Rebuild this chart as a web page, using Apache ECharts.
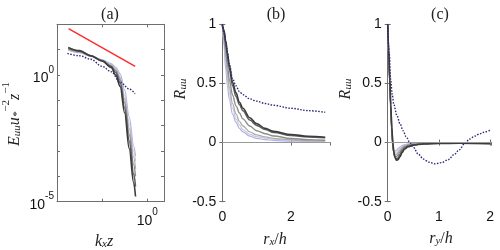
<!DOCTYPE html>
<html>
<head>
<meta charset="utf-8">
<script src="https://cdn.jsdelivr.net/npm/echarts@6/dist/echarts.min.js"></script>
<style>html,body{margin:0;padding:0;background:#fff}#c{width:500px;height:250px}</style>
</head>
<body>
<div id="c"></div>
<script>
// ---------- Panel (a): spectra ----------
const kx = [0.0178, 0.0316, 0.0562, 0.1, 0.158, 0.2, 0.251, 0.316, 0.398, 0.501, 0.55];
const a1 = [12.3, 9.12, 5.75, 3.55, 2.0, 1.0, 0.355, 0.0316, 0.00126, 5.6e-5, 1.6e-5];
const a2 = [11.5, 8.71, 5.75, 3.63, 2.14, 1.26, 0.479, 0.0501, 0.00251, 1.26e-4, 3.98e-5];
const a3 = [10.7, 8.32, 5.62, 3.72, 2.29, 1.45, 0.631, 0.0794, 0.00447, 2.82e-4, 1.0e-4];
const a4 = [10.2, 7.94, 5.62, 3.80, 2.45, 1.58, 0.759, 0.112, 0.00794, 5.62e-4, 2.0e-4];
const a5 = [9.77, 7.76, 5.62, 3.89, 2.63, 1.78, 0.891, 0.158, 0.0126, 0.001, 3.98e-4];
const a6 = [9.55, 7.59, 5.62, 3.98, 2.82, 2.0, 1.12, 0.251, 0.0224, 0.00158, 6.31e-4];
const aDotX = [0.017, 0.0316, 0.0562, 0.1, 0.158, 0.251, 0.398, 0.537];
const aDotY = [7.08, 5.75, 4.17, 2.19, 1.35, 0.525, 0.282, 0.182];
const redX = [0.018, 0.54];
const redY = [68, 2.2];

// ---------- Panel (b): streamwise correlation ----------
const rx = [0, 0.05, 0.1, 0.15, 0.2, 0.3, 0.4, 0.5, 0.6, 0.8, 1, 1.25, 1.5, 2, 2.5, 3];
const b1 = [1, 0.95, 0.86, 0.76, 0.66, 0.51, 0.42, 0.34, 0.29, 0.21, 0.16, 0.12, 0.095, 0.068, 0.053, 0.045];
const b2 = [1, 0.94, 0.84, 0.73, 0.63, 0.48, 0.39, 0.32, 0.27, 0.19, 0.145, 0.11, 0.085, 0.06, 0.048, 0.04];
const b3 = [1, 0.9, 0.78, 0.66, 0.54, 0.4, 0.31, 0.25, 0.2, 0.14, 0.1, 0.075, 0.055, 0.035, 0.025, 0.02];
const b4 = [1, 0.87, 0.72, 0.59, 0.47, 0.33, 0.24, 0.18, 0.14, 0.09, 0.065, 0.048, 0.035, 0.022, 0.017, 0.015];
const b5 = [1, 0.85, 0.68, 0.54, 0.42, 0.29, 0.2, 0.15, 0.11, 0.07, 0.05, 0.037, 0.028, 0.02, 0.015, 0.012];
const b6 = [1, 0.82, 0.62, 0.48, 0.37, 0.24, 0.17, 0.12, 0.09, 0.055, 0.035, 0.025, 0.018, 0.012, 0.01, 0.008];
const bDot = [1, 0.93, 0.85, 0.76, 0.67, 0.54, 0.48, 0.43, 0.405, 0.37, 0.35, 0.33, 0.315, 0.29, 0.27, 0.256];

// ---------- Panel (c): spanwise correlation ----------
const ry = [0, 0.02, 0.04, 0.06, 0.08, 0.1, 0.12, 0.14, 0.17, 0.2, 0.24, 0.28, 0.33, 0.4, 0.5, 0.7, 1, 1.4, 2.0];
const c1 = [1, 0.78, 0.54, 0.32, 0.13, 0.0, -0.08, -0.125, -0.15, -0.145, -0.12, -0.085, -0.055, -0.035, -0.022, -0.012, -0.008, -0.005, -0.01];
const c2 = [1, 0.77, 0.53, 0.31, 0.12, -0.01, -0.085, -0.125, -0.14, -0.13, -0.1, -0.07, -0.045, -0.03, -0.02, -0.01, -0.006, -0.004, -0.008];
const c3 = [1, 0.76, 0.52, 0.3, 0.11, -0.02, -0.09, -0.115, -0.12, -0.105, -0.08, -0.055, -0.035, -0.022, -0.014, -0.008, -0.005, -0.003, -0.006];
const c4 = [1, 0.75, 0.5, 0.28, 0.1, -0.03, -0.085, -0.1, -0.1, -0.085, -0.062, -0.043, -0.028, -0.018, -0.012, -0.007, -0.004, -0.002, -0.005];
const c5 = [1, 0.74, 0.49, 0.27, 0.09, -0.035, -0.08, -0.088, -0.082, -0.068, -0.05, -0.035, -0.022, -0.014, -0.01, -0.006, -0.003, -0.002, -0.004];
const c6 = [1, 0.73, 0.47, 0.25, 0.07, -0.04, -0.07, -0.072, -0.065, -0.052, -0.038, -0.026, -0.017, -0.011, -0.008, -0.005, -0.003, -0.002, -0.003];
const cDotX = [0, 0.03, 0.06, 0.09, 0.12, 0.18, 0.24, 0.3, 0.36, 0.43, 0.5, 0.6, 0.7, 0.8, 0.92, 1.05, 1.18, 1.3, 1.4, 1.5, 1.6, 1.7, 1.8, 1.9, 2.0];
const cDotY = [1, 0.75, 0.52, 0.4, 0.32, 0.23, 0.16, 0.1, 0.05, 0, -0.04, -0.1, -0.14, -0.165, -0.18, -0.17, -0.145, -0.1, -0.06, -0.01, 0.03, 0.055, 0.075, 0.09, 0.105];

const titles = ['(a)', '(b)', '(c)'];

const grayColors = ['#cbcbcb', '#adadad', '#8c8c8c', '#5e5e5e', '#3c3c3c'];
const blueLight = '#aeaef2';
const navy = '#2b2b7a';
const red = '#ff2a2a';

const zip = (xs, ys) => xs.map((x, i) => [x, ys[i]]);

const AX = '#6e6e6e';
const SANS = "'Liberation Sans', Arial, sans-serif";
const SERIF = "'Liberation Serif', 'DejaVu Serif', serif";

const grids = [
  {left: 57, top: 24.3, width: 107, height: 177.4},
  {left: 222.3, top: 24.3, width: 107.7, height: 177.4},
  {left: 387.7, top: 24.3, width: 104, height: 177.4}
];

function baseAxis(extra) {
  return Object.assign({
    axisLine: {show: true, lineStyle: {color: AX, width: 1}},
    axisTick: {show: true, inside: true, length: 3, lineStyle: {color: AX}},
    splitLine: {show: false},
    axisLabel: {color: '#111', fontFamily: SANS, fontSize: 14}
  }, extra);
}
function mirror(ax, pos) {
  const m = JSON.parse(JSON.stringify(ax));
  m.position = pos;
  m.axisLabel = {show: false};
  return m;
}

const supRich = {
  b: {fontFamily: SANS, fontSize: 14, color: '#111', verticalAlign: 'bottom', lineHeight: 20},
  s: {fontFamily: SANS, fontSize: 10, color: '#111', verticalAlign: 'top', lineHeight: 12}
};
const logFmt = keep => v => {
  const e = Math.round(Math.log10(v));
  return keep.indexOf(e) >= 0 ? '{b|10}{s|' + e + '}' : '';
};

const xA = baseAxis({type: 'log', logBase: 10, gridIndex: 0, min: 0.01, max: 2.35, interval: 1,
  axisLabel: {formatter: logFmt([0]), rich: supRich, margin: 6}});
const yA = baseAxis({type: 'log', logBase: 10, gridIndex: 0, min: 1e-5, max: 100, interval: 1,
  axisLabel: {formatter: logFmt([0, -5]), rich: supRich, margin: 3}});
const xB = baseAxis({type: 'value', gridIndex: 1, min: 0, max: 3.14, interval: 2,
  axisLabel: {color: '#111', fontFamily: SANS, fontSize: 14, margin: 8, showMaxLabel: false}});
const yB = baseAxis({type: 'value', gridIndex: 1, min: -0.5, max: 1, interval: 0.5,
  axisLabel: {color: '#111', fontFamily: SANS, fontSize: 14, margin: 6}});
const xC = baseAxis({type: 'value', gridIndex: 2, min: 0, max: 2.03, interval: 1,
  axisLabel: {color: '#111', fontFamily: SANS, fontSize: 14, margin: 8, showMaxLabel: false}});
const yC = baseAxis({type: 'value', gridIndex: 2, min: -0.5, max: 1, interval: 0.5,
  axisLabel: {color: '#111', fontFamily: SANS, fontSize: 14, margin: 6}});

const xAxes = [xA, xB, xC, mirror(xA, 'top'), mirror(xB, 'top'), mirror(xC, 'top')];
const yAxes = [yA, yB, yC, mirror(yA, 'right'), mirror(yB, 'right'), mirror(yC, 'right')];

function line(idx, data, color, width, dotted, z) {
  return {type: 'line', xAxisIndex: idx, yAxisIndex: idx, data: data, symbol: 'none',
    smooth: 0.35, smoothMonotone: 'x', z: z || 2,
    lineStyle: {color: color, width: width, type: dotted ? [1.5, 1.5] : 'solid'}, silent: true};
}

const series = [];
// (a)
[[a6, blueLight, 1.2], [a5, grayColors[0], 1.2], [a4, grayColors[1], 1.3], [a3, grayColors[2], 1.4], [a2, grayColors[3], 1.5], [a1, grayColors[4], 1.6]]
  .forEach(([ys, col, w]) => series.push(line(0, zip(kx, ys), col, w)));
series.push(line(0, zip(aDotX, aDotY), navy, 1.4, true, 4));
series.push(line(0, zip(redX, redY), red, 1.4, false, 4));
// (b)
const zeroMark = {silent: true, symbol: 'none', label: {show: false},
  lineStyle: {color: '#9a9a9a', width: 1, type: 'solid'}, data: [{yAxis: 0}]};
[[b6, blueLight, 1.2], [b5, grayColors[0], 1.2], [b4, grayColors[1], 1.3], [b3, grayColors[2], 1.4], [b2, grayColors[3], 1.5], [b1, grayColors[4], 1.6]]
  .forEach(([ys, col, w], i) => {
    const s = line(1, zip(rx, ys), col, w);
    if (i === 0) s.markLine = zeroMark;
    series.push(s);
  });
series.push(line(1, zip(rx, bDot), navy, 1.4, true, 4));
// (c)
[[c6, blueLight, 1.2], [c5, grayColors[0], 1.2], [c4, grayColors[1], 1.3], [c3, grayColors[2], 1.4], [c2, grayColors[3], 1.5], [c1, grayColors[4], 1.6]]
  .forEach(([ys, col, w], i) => {
    const s = line(2, zip(ry, ys), col, w);
    if (i === 0) s.markLine = zeroMark;
    series.push(s);
  });
series.push(line(2, zip(cDotX, cDotY), navy, 1.4, true, 4));

const it = {fontFamily: SERIF, fontStyle: 'italic', fontSize: 16, color: '#222', verticalAlign: 'bottom', lineHeight: 22};
const rm = {fontFamily: SERIF, fontSize: 16, color: '#222', verticalAlign: 'bottom', lineHeight: 22};
const sub = {fontFamily: SERIF, fontStyle: 'italic', fontSize: 11, color: '#222', verticalAlign: 'bottom', lineHeight: 17};
const sup = {fontFamily: SERIF, fontSize: 11, color: '#222', verticalAlign: 'top', lineHeight: 17};
const rich = {it: it, rm: rm, sub: sub, sup: sup};

function txt(x, y, text, rot) {
  return {type: 'text', x: x, y: y, rotation: rot || 0, silent: true,
    style: {text: text, rich: rich, align: 'center', verticalAlign: 'middle',
      textAlign: 'center', textVerticalAlign: 'middle', fill: '#222', fontFamily: SERIF, fontSize: 16}};
}

const graphic = [
  txt(110, 12, '{rm|' + titles[0] + '}'),
  txt(276, 12, '{rm|' + titles[1] + '}'),
  txt(440, 12, '{rm|' + titles[2] + '}'),
  txt(12, 114, '{it|E}{sub|uu}{it|u}{sub|*}{sup|−2}{it|z}{sup|−1}', Math.PI / 2),
  txt(178, 89, '{it|R}{sub|uu}', Math.PI / 2),
  txt(343, 89, '{it|R}{sub|uu}', Math.PI / 2),
  txt(104, 239, '{it|k}{sub|x}{it|z}'),
  txt(275, 237, '{it|r}{sub|x}{rm|/}{it|h}'),
  txt(441, 236, '{it|r}{sub|y}{rm|/}{it|h}')
];

const chart = echarts.init(document.getElementById('c'), null, {renderer: 'canvas'});
chart.setOption({
  animation: false,
  backgroundColor: '#fff',
  grid: grids,
  xAxis: xAxes,
  yAxis: yAxes,
  series: series,
  graphic: graphic
});
</script>
</body>
</html>
